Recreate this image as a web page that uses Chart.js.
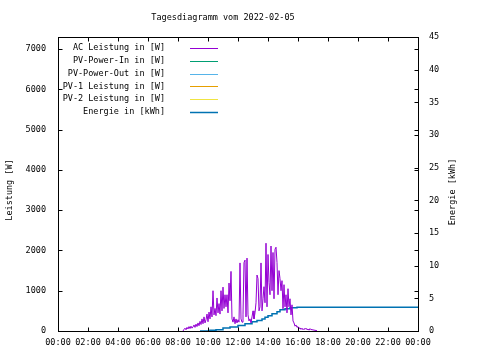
<!DOCTYPE html>
<html>
<head>
<meta charset="utf-8">
<script src="https://cdn.jsdelivr.net/npm/chart.js@4.4.1/dist/chart.umd.min.js"></script>
<style>
  html, body { margin: 0; padding: 0; background: #fff; }
  canvas { display: block; }
</style>
</head>
<body>
<canvas id="chart" width="480" height="360"></canvas>
<script>
// AC Leistung [W], one value every 4 minutes starting 08:20
const acStart = 500;
const acStep = 4;
const acValues = [
  0, 40, 70, 30, 90, 50, 110, 60, 120, 70, 100, 150, 90, 170, 110, 200,
  130, 240, 160, 300, 180, 350, 200, 280, 420, 230, 470, 300, 600, 350, 1000, 400,
  560, 380, 820, 450, 680, 420, 1000, 500, 1090, 560, 900, 600, 900, 450, 1190, 750,
  1480, 300, 220, 350, 180, 300, 200, 280, 220, 1690, 300, 220, 400, 1700, 1760, 350,
  1810, 400, 250, 300, 200, 350, 500, 300, 450, 700, 1390, 1300, 500, 600, 1690, 500,
  800, 1100, 700, 2180, 600, 1900, 1200, 900, 2110, 1000, 1950, 800, 2030, 2080, 1700, 900,
  1500, 1300, 1000, 1250, 550, 1150, 600, 900, 450, 1050, 600, 800, 400, 650, 250, 200,
  120, 150, 90, 110, 60, 80, 40, 70, 30, 60, 40, 70, 30, 50, 20, 60,
  30, 40, 20, 30, 10, 20, 0
];

// Energie [kWh] (minutes since midnight)
const energyTimes = [568, 608, 632, 660, 688, 720, 748, 776, 796, 816, 828, 840, 856, 876, 888, 908, 928, 956, 1440];
const energyValues = [0, 0.1, 0.2, 0.45, 0.6, 0.85, 1.1, 1.4, 1.6, 1.85, 2.1, 2.35, 2.65, 2.95, 3.25, 3.4, 3.55, 3.65, 3.65];

const xTicks = [0, 120, 240, 360, 480, 600, 720, 840, 960, 1080, 1200, 1320, 1440];
const wTicks = [0, 1000, 2000, 3000, 4000, 5000, 6000, 7000];
const kwhTicks = [0, 5, 10, 15, 20, 25, 30, 35, 40, 45];

const FONT = { family: 'DejaVu Sans Mono', size: 8.5 };

function hhmm(m) {
  const h = Math.floor(m / 60) % 24;
  const mm = m % 60;
  return String(h).padStart(2, '0') + ':' + String(mm).padStart(2, '0');
}

const acData = acValues.map((v, i) => ({ x: acStart + i * acStep, y: v }));
const energyData = energyTimes.map((t, i) => ({ x: t, y: energyValues[i] }));

// gnuplot style frame, inward ticks, key and titles
const gnuplotFrame = {
  id: 'gnuplotFrame',
  beforeDraw(chart) {
    const ctx = chart.ctx;
    ctx.save();
    ctx.fillStyle = '#fff';
    ctx.fillRect(0, 0, chart.width, chart.height);
    ctx.restore();
  },
  afterDraw(chart) {
    const ctx = chart.ctx;
    const a = chart.chartArea;
    const { x, y, y2 } = chart.scales;
    const L = Math.round(a.left) + 0.5, R = Math.round(a.right) + 0.5;
    const T = Math.round(a.top) + 0.5, B = Math.round(a.bottom) + 0.5;
    ctx.save();
    ctx.strokeStyle = '#000';
    ctx.lineWidth = 1;
    ctx.beginPath();
    xTicks.forEach(v => {
      const px = Math.round(x.getPixelForValue(v)) + 0.5;
      ctx.moveTo(px, B); ctx.lineTo(px, B - 4);
      ctx.moveTo(px, T); ctx.lineTo(px, T + 4);
    });
    wTicks.forEach(v => {
      const py = Math.round(y.getPixelForValue(v)) + 0.5;
      ctx.moveTo(L, py); ctx.lineTo(L + 4, py);
      ctx.moveTo(R, py); ctx.lineTo(R - 4, py);
    });
    kwhTicks.forEach(v => {
      const py = Math.round(y2.getPixelForValue(v)) + 0.5;
      ctx.moveTo(R, py); ctx.lineTo(R - 4, py);
    });
    ctx.stroke();
    ctx.strokeRect(L, T, R - L, B - T);

    ctx.fillStyle = '#000';
    ctx.font = FONT.size + 'px ' + FONT.family;
    ctx.textBaseline = 'middle';
    ctx.textAlign = 'center';
    ctx.fillText('Tagesdiagramm vom 2022-02-05', 223, 18);

    ctx.save();
    ctx.translate(10, 190);
    ctx.rotate(-Math.PI / 2);
    ctx.fillText('Leistung [W]', 0, 0);
    ctx.restore();
    ctx.save();
    ctx.translate(453, 192);
    ctx.rotate(-Math.PI / 2);
    ctx.fillText('Energie [kWh]', 0, 0);
    ctx.restore();

    // key
    ctx.textAlign = 'right';
    chart.data.datasets.forEach((ds, i) => {
      const ky = 48 + i * 12.8;
      ctx.fillStyle = '#000';
      ctx.fillText(ds.label, 165, ky);
      ctx.strokeStyle = ds.borderColor;
      ctx.lineWidth = ds.borderWidth;
      ctx.beginPath();
      ctx.moveTo(190, Math.round(ky) + 0.5);
      ctx.lineTo(218, Math.round(ky) + 0.5);
      ctx.stroke();
    });
    ctx.restore();
  }
};

new Chart(document.getElementById('chart'), {
  type: 'line',
  data: {
    datasets: [
      { label: 'AC Leistung in [W]', data: acData, borderColor: '#9400d3', borderWidth: 1, yAxisID: 'y' },
      { label: 'PV-Power-In in [W]', data: [], borderColor: '#009e73', borderWidth: 1, yAxisID: 'y' },
      { label: 'PV-Power-Out in [W]', data: [], borderColor: '#56b4e9', borderWidth: 1, yAxisID: 'y' },
      { label: 'PV-1 Leistung in [W]', data: [], borderColor: '#e69f00', borderWidth: 1, yAxisID: 'y' },
      { label: 'PV-2 Leistung in [W]', data: [], borderColor: '#f0e442', borderWidth: 1, yAxisID: 'y' },
      { label: 'Energie in [kWh]', data: energyData, borderColor: '#0072b2', borderWidth: 1.5, stepped: 'before', yAxisID: 'y2' }
    ]
  },
  options: {
    responsive: false,
    animation: false,
    devicePixelRatio: 1,
    layout: { padding: { top: 37, left: 0, right: 0, bottom: 0 } },
    elements: { point: { radius: 0 }, line: { tension: 0 } },
    plugins: { legend: { display: false }, title: { display: false }, tooltip: { enabled: false } },
    scales: {
      x: {
        type: 'linear',
        min: 0,
        max: 1440,
        afterBuildTicks: s => { s.ticks = xTicks.map(v => ({ value: v })); },
        afterFit: s => { s.height = 29; },
        grid: { display: false, drawTicks: false },
        border: { display: false },
        ticks: { font: FONT, color: '#000', padding: 7, maxRotation: 0, autoSkip: false, callback: v => hhmm(v) }
      },
      y: {
        position: 'left',
        min: 0,
        max: 7300,
        afterBuildTicks: s => { s.ticks = wTicks.map(v => ({ value: v })); },
        afterFit: s => { s.width = 58; },
        grid: { display: false, drawTicks: false },
        border: { display: false },
        ticks: { font: FONT, color: '#000', padding: 12, callback: v => String(v) }
      },
      y2: {
        position: 'right',
        min: 0,
        max: 45,
        afterBuildTicks: s => { s.ticks = kwhTicks.map(v => ({ value: v })); },
        afterFit: s => { s.width = 62; },
        grid: { display: false, drawTicks: false },
        border: { display: false },
        ticks: { font: FONT, color: '#000', padding: 11, callback: v => String(v) }
      }
    }
  },
  plugins: [gnuplotFrame]
});
</script>
</body>
</html>
